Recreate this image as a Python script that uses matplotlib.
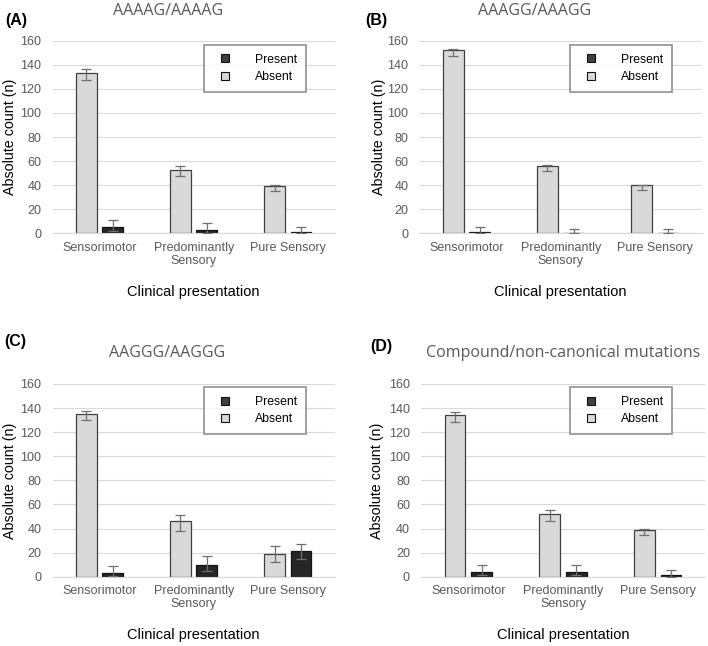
import matplotlib

matplotlib.use("Agg")
import matplotlib.pyplot as plt
import numpy as np
from matplotlib.lines import Line2D

plt.rcParams["font.family"] = ["Liberation Sans", "DejaVu Sans"]

W, H = 708, 646

categories = ["Sensorimotor", "Predominantly\nSensory", "Pure Sensory"]
series_names = ["Present", "Absent"]
titles = ["AAAAG/AAAAG", "AAAGG/AAAGG", "AAGGG/AAGGG", "Compound/non-canonical mutations"]
panel_tags = ["(A)", "(B)", "(C)", "(D)"]

# absent counts with lower / upper interval ends
absent_a = [133, 53, 39]
absent_a_low = [127, 48, 35]
absent_a_high = [136.5, 55.5, 40]
present_a = [5, 3, 1]
present_a_low = [2, 0.5, 0]
present_a_high = [11, 8.5, 5.5]

absent_b = [152, 56, 40]
absent_b_low = [147.5, 52, 36]
absent_b_high = [153.5, 56.5, 40.5]
present_b = [1, 0, 0]
present_b_low = [0, 0, 0]
present_b_high = [5.5, 3.3, 3.3]

absent_c = [135, 46, 19]
absent_c_low = [130, 38, 12]
absent_c_high = [137.5, 51, 25.5]
present_c = [3, 10, 21]
present_c_low = [0.5, 5, 14.5]
present_c_high = [8.5, 17, 27.5]

absent_d = [134, 52, 39]
absent_d_low = [128.5, 46, 34.5]
absent_d_high = [137, 55, 39.5]
present_d = [4, 4, 1]
present_d_low = [1, 1, 0]
present_d_high = [10, 9.7, 5.3]

panels = [
    (absent_a, absent_a_low, absent_a_high, present_a, present_a_low, present_a_high),
    (absent_b, absent_b_low, absent_b_high, present_b, present_b_low, present_b_high),
    (absent_c, absent_c_low, absent_c_high, present_c, present_c_low, present_c_high),
    (absent_d, absent_d_low, absent_d_high, present_d, present_d_low, present_d_high),
]

# layout in pixels: left, right, top (=160), bottom (=0)
boxes = [
    (52.5, 334.8, 40.7, 233.3),
    (419.3, 702.0, 40.7, 233.3),
    (52.5, 334.8, 384.0, 576.7),
    (421.0, 705.0, 384.0, 576.7),
]
title_pos = [(167.7, 11), (534.7, 11), (167.5, 353.3), (563, 353.3)]
tag_pos = [(5, 20), (365.7, 20), (4, 341.7), (370.7, 346.7)]
legend_pos = [(204, 45), (570, 45), (204, 387.3), (570, 387.3)]
ylabel_x = [17, 385.5, 17, 384]

LIGHT = "#d9d9d9"
DARK = "#262626"
EDGE = "#404040"
ERR = "#6f6f6f"
TXT = "#595959"

fig = plt.figure(figsize=(W / 100, H / 100), dpi=100)
x = np.arange(len(categories))
width = 0.22
off = 0.14

for i, (vals, box) in enumerate(zip(panels, boxes)):
    ab, ab_lo, ab_hi, pr, pr_lo, pr_hi = [np.array(v, dtype=float) for v in vals]
    l, r, t, b = box
    ax = fig.add_axes([l / W, 1 - b / H, (r - l) / W, (b - t) / H])

    ax.bar(x - off, ab, width, color=LIGHT, edgecolor=EDGE, linewidth=0.9, zorder=2)
    ax.bar(x + off, pr, width, color=DARK, edgecolor="#111111", linewidth=0.9, zorder=2)
    ax.errorbar(x - off, ab, yerr=[ab - ab_lo, ab_hi - ab], fmt="none",
                ecolor=ERR, elinewidth=0.9, capsize=3.5, capthick=0.9, zorder=3)
    ax.errorbar(x + off, pr, yerr=[pr - pr_lo, pr_hi - pr], fmt="none",
                ecolor=ERR, elinewidth=0.9, capsize=3.5, capthick=0.9, zorder=3)

    ax.set_xlim(-0.5, len(categories) - 0.5)
    ax.set_ylim(0, 160)
    ax.set_yticks(np.arange(0, 161, 20))
    ax.set_xticks(x)
    ax.set_xticklabels(categories, linespacing=1.15)
    ax.yaxis.grid(True, color=LIGHT, linewidth=0.8, zorder=0)
    ax.set_axisbelow(True)
    for s in ["top", "right", "left"]:
        ax.spines[s].set_visible(False)
    ax.spines["bottom"].set_color(LIGHT)
    ax.spines["bottom"].set_linewidth(0.8)
    ax.tick_params(axis="both", length=0, labelsize=9, labelcolor=TXT)
    ax.tick_params(axis="y", pad=8)
    ax.tick_params(axis="x", pad=6)

    ax.set_ylabel("Absolute count (n)", fontsize=10.3)
    ax.yaxis.set_label_coords((ylabel_x[i] - l) / (r - l), 0.5)
    ax.set_xlabel("Clinical presentation", fontsize=10.5)
    ax.xaxis.set_label_coords(0.5, -(285 - 233.3) / 192.6)

    handles = [
        Line2D([], [], linestyle="none", marker="s", markersize=6,
               markerfacecolor="#404040", markeredgecolor="#111111", markeredgewidth=0.8),
        Line2D([], [], linestyle="none", marker="s", markersize=6,
               markerfacecolor=LIGHT, markeredgecolor="#111111", markeredgewidth=0.8),
    ]
    lx, ly = legend_pos[i]
    leg = ax.legend(handles, series_names, loc="upper left",
                    bbox_to_anchor=(lx / W, 1 - ly / H), bbox_transform=fig.transFigure,
                    borderaxespad=0, fontsize=8.8, frameon=True, fancybox=False,
                    borderpad=0.7, handlelength=2.0, handletextpad=1.5,
                    labelspacing=0.45)
    leg.get_frame().set_edgecolor("#7f7f7f")
    leg.get_frame().set_linewidth(1.3)

    tx, ty = title_pos[i]
    fig.text(tx / W, 1 - ty / H, titles[i], ha="center", va="center",
             fontsize=11.5, color=TXT, family=["Open Sans", "DejaVu Sans"])
    gx, gy = tag_pos[i]
    fig.text(gx / W, 1 - gy / H, panel_tags[i], ha="left", va="center",
             fontsize=11.5, fontweight="bold", color="black")

fig.savefig("out.png", dpi=100)
